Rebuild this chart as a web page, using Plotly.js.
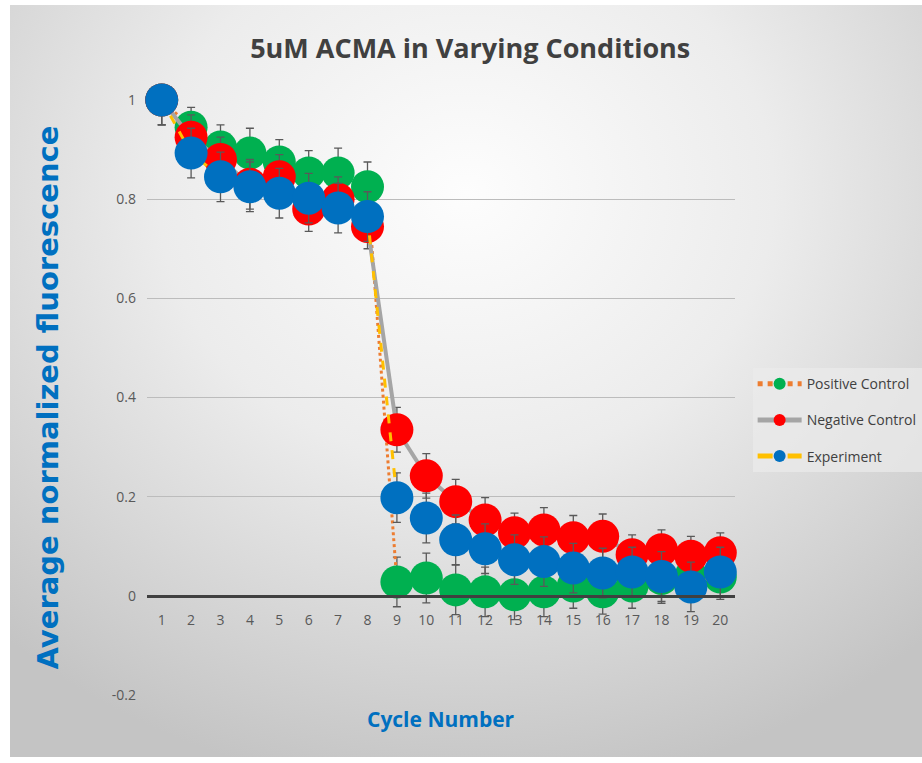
<!DOCTYPE html>
<html>
<head>
<meta charset="utf-8">
<script src="https://cdn.plot.ly/plotly-3.0.1.min.js"></script>
<style>
html,body{margin:0;padding:0;background:#ffffff;}
#bg{position:absolute;left:10px;top:5px;width:912px;height:752px;
 background:radial-gradient(ellipse 75% 80% at 50% 25%, #fdfdfd 0%, #ececec 45%, #cfcfcf 85%, #c4c4c4 100%);}
#chart{position:absolute;left:0;top:0;width:922px;height:763px;}
</style>
</head>
<body>
<div id="bg"></div>
<div id="chart"></div>
<script>
var cycles = [1,2,3,4,5,6,7,8,9,10,11,12,13,14,15,16,17,18,19,20];
var positiveControl = [1.0,0.945,0.905,0.893,0.875,0.853,0.853,0.825,0.028,0.036,0.012,0.008,0.002,0.008,0.02,0.008,0.02,0.035,0.04,0.038];
var negativeControl = [1.0,0.925,0.88,0.83,0.845,0.78,0.8,0.745,0.335,0.242,0.19,0.153,0.127,0.133,0.117,0.12,0.083,0.093,0.08,0.087];
var experiment = [1.0,0.893,0.845,0.825,0.812,0.802,0.782,0.765,0.198,0.157,0.113,0.095,0.073,0.069,0.056,0.046,0.048,0.039,0.018,0.048];
var positiveErr = [0.05,0.04,0.045,0.05,0.045,0.045,0.05,0.05,0.05,0.05,0.05,0.05,0.05,0.05,0.045,0.045,0.045,0.05,0.05,0.045];
var negativeErr = [0.05,0.045,0.045,0.05,0.045,0.045,0.045,0.045,0.045,0.045,0.045,0.045,0.04,0.045,0.045,0.045,0.04,0.04,0.04,0.04];
var experimentErr = [0.05,0.05,0.05,0.05,0.05,0.05,0.05,0.05,0.05,0.05,0.05,0.05,0.05,0.05,0.05,0.05,0.05,0.05,0.05,0.05];
var seriesNames = ["Positive Control","Negative Control","Experiment"];
var yTickVals = [-0.2,0,0.2,0.4,0.6,0.8,1];
var yTickText = ["-0.2","0","0.2","0.4","0.6","0.8","1"];

var errStyle = function(arr){return {type:'data',array:arr,visible:true,color:'#595959',thickness:1.3,width:4};};
var tickFont = {family:'"Open Sans", sans-serif', size:14, color:'#595959'};

var traces = [
 {x:cycles,y:positiveControl,name:seriesNames[0],type:'scatter',mode:'lines+markers',legendgroup:'a',
  line:{color:'#ED7D31',width:3,dash:'dot'},marker:{color:'#00B050',size:33},error_y:errStyle(positiveErr),cliponaxis:false},
 {x:cycles,y:negativeControl,name:seriesNames[1],type:'scatter',mode:'lines+markers',legendgroup:'b',
  line:{color:'#A5A5A5',width:4},marker:{color:'#FF0000',size:33},error_y:errStyle(negativeErr),cliponaxis:false},
 {x:cycles,y:experiment,name:seriesNames[2],type:'scatter',mode:'lines+markers',legendgroup:'c',
  line:{color:'#FFC000',width:3,dash:'dash'},marker:{color:'#0070C0',size:33},error_y:errStyle(experimentErr),cliponaxis:false}
];

var layout = {
 width:922,height:763,
 paper_bgcolor:'rgba(0,0,0,0)',plot_bgcolor:'rgba(0,0,0,0)',
 margin:{l:147,r:187,t:100,b:68,autoexpand:false},
 title:{text:'<b>5uM ACMA in Varying Conditions</b>',font:{family:'"Open Sans", sans-serif',size:27,color:'#404040'},x:0.51,xanchor:'center',y:0.937,yanchor:'middle'},
 xaxis:{range:[0.5,20.5],tickvals:cycles,ticktext:cycles.map(String),showgrid:false,zeroline:false,automargin:false,
  anchor:'free',position:1/6,showline:true,linecolor:'#404040',linewidth:3,ticks:'',ticklabelstandoff:10,tickfont:tickFont,fixedrange:true},
 yaxis:{range:[-0.2,1],tickvals:yTickVals,ticktext:yTickText,showgrid:true,gridcolor:'#bcbcbc',gridwidth:1.3,zeroline:false,automargin:false,
  showline:false,ticks:'',ticklabelstandoff:10,tickfont:tickFont},
 showlegend:true,
 legend:{x:1.03,xanchor:'left',y:0.462,yanchor:'middle',bgcolor:'rgba(235,235,235,0.7)',font:{family:'"Open Sans", sans-serif',size:14,color:'#404040'},
  tracegroupgap:15,itemsizing:'constant',itemwidth:44},
 annotations:[
  {text:'<b>Cycle Number</b>',xref:'paper',yref:'paper',x:0.50,y:-0.04,xanchor:'center',yanchor:'middle',showarrow:false,
   font:{family:'"Open Sans", sans-serif',size:21,color:'#0070C0'}},
  {text:'<b>Average normalized fluorescence</b>',xref:'paper',yref:'paper',x:-0.17,y:0.5,xanchor:'center',yanchor:'middle',showarrow:false,textangle:-90,
   font:{family:'"DejaVu Sans", sans-serif',size:29,color:'#0070C0'}}
 ]
};
Plotly.newPlot('chart',traces,layout,{displayModeBar:false,staticPlot:true});
</script>
</body>
</html>
